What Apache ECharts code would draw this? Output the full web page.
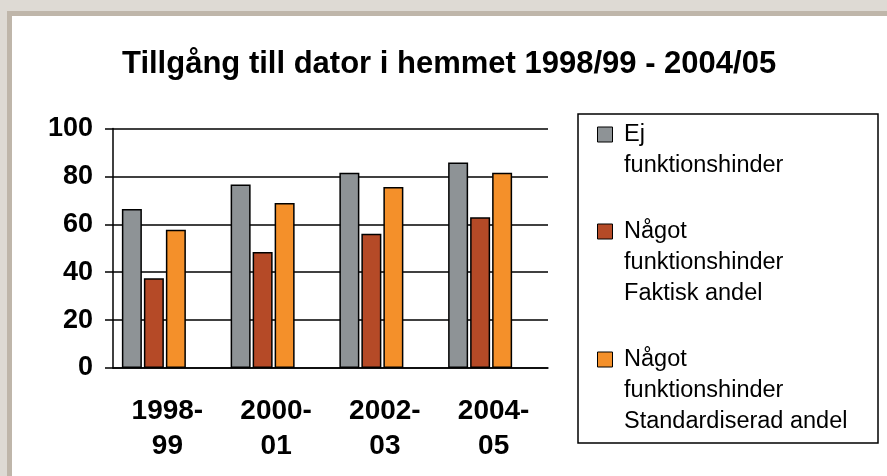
<!DOCTYPE html>
<html>
<head>
<meta charset="utf-8">
<script src="https://cdn.jsdelivr.net/npm/echarts@6/dist/echarts.min.js"></script>
<style>
html,body{margin:0;padding:0;background:#dedad4;}
#c{width:887px;height:476px;}
</style>
</head>
<body>
<div id="c"></div>
<script>
var categories = ['1998-\n99', '2000-\n01', '2002-\n03', '2004-\n05'];
var ejFunktionshinder = [66.4, 76.6, 81.5, 85.8];
var faktiskAndel = [37.5, 48.4, 56.1, 62.9];
var standardiseradAndel = [57.7, 68.9, 75.6, 81.5];
var seriesNames = ['Ej\nfunktionshinder', 'Något\nfunktionshinder\nFaktisk andel', 'Något\nfunktionshinder\nStandardiserad andel'];
var yTicks = {min: 0, max: 100, interval: 20};

var FONT = 'Liberation Sans, Arial, sans-serif';
var L = 31;
var chart = echarts.init(document.getElementById('c'));
function barSeries(name, data, color) {
  return {
    name: name, type: 'bar', data: data, barWidth: 20, barGap: '10%',
    itemStyle: {color: color, borderColor: '#000', borderWidth: 1.5}
  };
}
function legendText(name) {
  var lines = name.split('\n');
  var pre = '';
  for (var i = 1; i < lines.length; i++) pre += '\n';
  return pre + lines.map(function (s) { return ' ' + s; }).join('\n');
}
chart.setOption({
  backgroundColor: '#dedad4',
  animation: false,
  graphic: [
    {type: 'rect', z: -10, shape: {x: 7, y: 11, width: 880, height: 465}, style: {fill: '#bfb6aa'}},
    {type: 'rect', z: -9, shape: {x: 12, y: 16, width: 875, height: 460}, style: {fill: '#ffffff'}},
    {type: 'rect', z: -8, shape: {x: 578, y: 114, width: 300, height: 329}, style: {fill: '#ffffff', stroke: '#000', lineWidth: 1.5}}
  ],
  title: {
    text: 'Tillgång till dator i hemmet 1998/99 - 2004/05',
    left: 117, top: 44,
    textStyle: {fontFamily: FONT, fontSize: 31, fontWeight: 'bold', color: '#000'}
  },
  legend: {
    orient: 'vertical', left: 597, top: 88, padding: 0,
    itemWidth: 15, itemHeight: 15, itemGap: -27,
    icon: 'rect',
    itemStyle: {borderColor: '#000', borderWidth: 1},
    formatter: legendText,
    textStyle: {fontFamily: FONT, fontSize: 23.5, color: '#000', lineHeight: L},
    data: seriesNames
  },
  grid: {left: 113, right: 339, top: 128.5, bottom: 108},
  xAxis: {
    type: 'category', data: categories,
    axisLine: {lineStyle: {color: '#000', width: 1.5}},
    axisTick: {length: 7, lineStyle: {color: '#000', width: 1.5}},
    axisLabel: {fontFamily: FONT, fontSize: 28, fontWeight: 'bold', color: '#000', lineHeight: 35, margin: 26}
  },
  yAxis: {
    type: 'value', min: yTicks.min, max: yTicks.max, interval: yTicks.interval,
    axisLine: {show: true, lineStyle: {color: '#000', width: 1.5}},
    axisTick: {show: true, length: 8, lineStyle: {color: '#000', width: 1.5}},
    splitLine: {lineStyle: {color: '#000', width: 1.5}},
    axisLabel: {fontFamily: FONT, fontSize: 27, fontWeight: 'bold', color: '#000', margin: 20}
  },
  series: [
    barSeries(seriesNames[0], ejFunktionshinder, '#8e9396'),
    barSeries(seriesNames[1], faktiskAndel, '#b54a27'),
    barSeries(seriesNames[2], standardiseradAndel, '#f4902a'),
    {name: 'spacer', type: 'bar', barWidth: 25, data: [null, null, null, null], silent: true}
  ]
});
</script>
</body>
</html>
